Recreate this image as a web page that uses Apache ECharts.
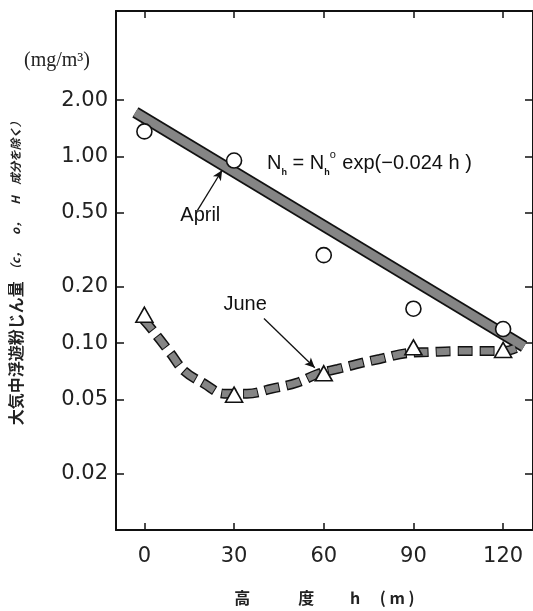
<!DOCTYPE html>
<html>
<head>
<meta charset="utf-8">
<script src="https://cdn.jsdelivr.net/npm/echarts@6/dist/echarts.min.js"></script>
<style>html,body{margin:0;padding:0;background:#fff;}#c{width:533px;height:611px;}</style>
</head>
<body>
<div id="c"></div>
<script>
// ---- data ----
var heightTicks = [0, 30, 60, 90, 120];
var concTicks = [0.02, 0.05, 0.1, 0.2, 0.5, 1, 2];

var aprilH = [0, 30, 60, 90, 120];
var aprilObs = [1.36, 0.95, 0.296, 0.153, 0.119];

var juneH = [0, 30, 60, 90, 120];
var juneObs = [0.142, 0.053, 0.069, 0.095, 0.092];

// fitted straight band (April) end points
var aprilFitH = [-3, 127];
var aprilFitV = [1.72, 0.096];

// hand-drawn June curve
var juneCurveH = [-0.5, 1.7, 8.7, 13.3, 20, 26.7, 34.3, 42.7, 51, 58, 64.7, 72.7, 78.7, 88, 95.3, 104.3, 112, 120.3, 124.3];
var juneCurveV = [0.135, 0.123, 0.0885, 0.0711, 0.0607, 0.0537, 0.0537, 0.0571, 0.0614, 0.0685, 0.0728, 0.0784, 0.0823, 0.0885, 0.0896, 0.0907, 0.0907, 0.0907, 0.094];

// annotations (data coordinates)
var aprilLabelAt = [18.7, 0.48];
var aprilArrow = [[17.7, 0.512], [26, 0.843]];
var juneLabelAt = [33.7, 0.161];
var juneArrow = [[40, 0.1355], [57, 0.0738]];
var eqAt = [41, 0.918];

function zip(a, b) { return a.map(function (v, i) { return [v, b[i]]; }); }

var numFont = 'DejaVu Sans';
var chart = echarts.init(document.getElementById('c'));

var baseX = {
  type: 'value', min: -9.5, max: 130,
  axisLine: { show: true, onZero: false, lineStyle: { color: '#111', width: 2 } },
  splitLine: { show: false },
  axisTick: { show: true, inside: true, length: 7, customValues: heightTicks, lineStyle: { color: '#111', width: 1.5 } },
  axisLabel: { customValues: heightTicks }
};
var baseY = {
  type: 'log', logBase: 10, min: 0.01, max: 6,
  axisLine: { show: true, onZero: false, lineStyle: { color: '#111', width: 2 } },
  splitLine: { show: false },
  minorTick: { show: false },
  axisTick: { show: true, inside: true, length: 8, customValues: concTicks, lineStyle: { color: '#111', width: 1.5 } },
  axisLabel: { customValues: concTicks }
};

var option = {
  backgroundColor: '#fff',
  animation: false,
  title: {
    text: '(mg/m³)', left: 19, top: 46,
    textStyle: { fontFamily: 'Liberation Serif', fontWeight: 'normal', fontSize: 20, color: '#222' }
  },
  grid: { left: 113, top: 11, width: 420, height: 524, containLabel: false },
  xAxis: [
    Object.assign({}, baseX, {
      position: 'bottom',
      axisLabel: { customValues: heightTicks, margin: 16, fontFamily: numFont, fontSize: 21, color: '#222' },
      name: '高　　　度　　 h　 ( m )',
      nameLocation: 'middle', nameGap: 60,
      nameTextStyle: { fontFamily: 'Noto Sans CJK JP', fontWeight: 'bold', fontSize: 16, color: '#222' }
    }),
    Object.assign({}, baseX, { position: 'top', axisLabel: { show: false } })
  ],
  yAxis: [
    Object.assign({}, baseY, {
      position: 'left',
      axisLabel: {
        customValues: concTicks, margin: 8, fontFamily: numFont, fontSize: 21, color: '#222',
        formatter: function (v) { return Number(v).toFixed(2); }
      },
      name: '{a|大気中浮遊粉じん量}{b|　（c，　o，　H　成分を除く）}',
      nameLocation: 'middle', nameRotate: 90, nameGap: 92,
      nameTextStyle: {
        rich: {
          a: { fontFamily: 'Noto Sans CJK JP', fontWeight: 'bold', fontSize: 16, color: '#222' },
          b: { fontFamily: 'Noto Sans CJK JP', fontWeight: 'bold', fontStyle: 'italic', fontSize: 11.5, color: '#222' }
        }
      }
    }),
    Object.assign({}, baseY, { position: 'right', axisLabel: { show: false } })
  ],
  series: [
    {
      type: 'line', data: zip(aprilFitH, aprilFitV), symbol: 'none', silent: true,
      lineStyle: { color: '#111', width: 12 }, z: 2
    },
    {
      type: 'line', data: zip(aprilFitH, aprilFitV), symbol: 'none', silent: true,
      lineStyle: { color: '#858585', width: 8.5 }, z: 3,
      markLine: {
        silent: true, symbol: ['none', 'arrow'], symbolSize: [7, 10],
        lineStyle: { color: '#111', width: 1.3, type: 'solid' }, label: { show: false },
        data: [[{ coord: aprilArrow[0] }, { coord: aprilArrow[1] }]]
      },
      markPoint: {
        silent: true, symbol: 'circle', symbolSize: 0,
        label: { show: true, color: '#111', fontFamily: 'Liberation Sans', fontSize: 20, formatter: 'April' },
        data: [{ coord: aprilLabelAt }]
      }
    },
    {
      type: 'line', data: zip(juneCurveH, juneCurveV), symbol: 'none', smooth: 0.4, silent: true,
      lineStyle: { color: '#111', width: 10, type: [15, 7] }, z: 2
    },
    {
      type: 'line', data: zip(juneCurveH, juneCurveV), symbol: 'none', smooth: 0.4, silent: true,
      lineStyle: { color: '#858585', width: 7, type: [13, 9], dashOffset: -1 }, z: 3,
      markLine: {
        silent: true, symbol: ['none', 'arrow'], symbolSize: [7, 10],
        lineStyle: { color: '#111', width: 1.3, type: 'solid' }, label: { show: false },
        data: [[{ coord: juneArrow[0] }, { coord: juneArrow[1] }]]
      },
      markPoint: {
        silent: true, symbol: 'circle', symbolSize: 0,
        label: { show: true, color: '#111', fontFamily: 'Liberation Sans', fontSize: 20, formatter: 'June' },
        data: [{ coord: juneLabelAt }]
      }
    },
    {
      type: 'scatter', data: zip(aprilH, aprilObs), symbol: 'circle', symbolSize: 15, z: 5,
      itemStyle: { color: '#fff', opacity: 1, borderColor: '#111', borderWidth: 1.6 },
      markPoint: {
        silent: true, symbol: 'circle', symbolSize: 0,
        label: {
          show: true, position: 'right', distance: 0, color: '#111', fontFamily: 'Liberation Sans', fontSize: 20,
          formatter: 'N{s|h} = N{s|h}{p|o} exp(−0.024 h )',
          rich: {
            s: { fontSize: 9, fontFamily: 'Liberation Sans', fontWeight: 'bold', color: '#111', verticalAlign: 'bottom', padding: [0, 0, -4, 0] },
            p: { fontSize: 11, fontFamily: 'Liberation Sans', color: '#111', verticalAlign: 'top', padding: [-4, 1, 0, 0] }
          }
        },
        data: [{ coord: eqAt }]
      }
    },
    {
      type: 'scatter', data: zip(juneH, juneObs), symbol: 'triangle', symbolSize: [17, 15], z: 5,
      itemStyle: { color: '#fff', opacity: 1, borderColor: '#111', borderWidth: 1.6 }
    }
  ]
};
chart.setOption(option);
</script>
</body>
</html>
